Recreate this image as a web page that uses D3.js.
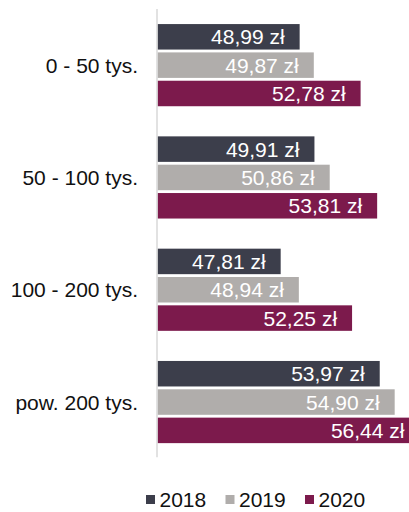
<!DOCTYPE html>
<html>
<head>
<meta charset="utf-8">
<script src="https://cdn.jsdelivr.net/npm/d3@7"></script>
<style>
  html, body { margin: 0; padding: 0; background: #fff; }
  svg { display: block; font-family: "Liberation Sans", Arial, sans-serif; }
</style>
</head>
<body>
<svg id="chart" width="409" height="512"></svg>
<script>
// kategorie (dochód gospodarstwa) i serie lat
const categories = ["0 - 50 tys.", "50 - 100 tys.", "100 - 200 tys.", "pow. 200 tys."];
const years = ["2018", "2019", "2020"];
const values2018 = [48.99, 49.91, 47.81, 53.97];
const values2019 = [49.87, 50.86, 48.94, 54.90];
const values2020 = [52.78, 53.81, 52.25, 56.44];
const colors = ["#3c3e4b", "#b0adab", "#7c1a4c"];

const series = [values2018, values2019, values2020];

const svg = d3.select("#chart");

/*Skale*/
const axisX = 157.5;
const x = d3.scaleLinear().domain([40.15, 60]).range([axisX, axisX + 19.85 * 16.08]);
const y0 = d3.scaleBand().domain(categories).range([9, 458.2]);
const y1 = d3.scaleBand().domain(years)
    .range([y0.bandwidth() / 2 - 42.5, y0.bandwidth() / 2 + 42.5])
    .paddingInner(0.1).paddingOuter(0.05);

const fmt = v => d3.format(".2f")(v).replace(".", ",") + " zł";

const groups = svg.selectAll("g.group")
    .data(categories)
    .enter().append("g")
        .attr("class", "group")
        .attr("transform", d => "translate(0," + y0(d) + ")");

groups.each(function(cat, ci) {
    const g = d3.select(this);
    years.forEach((yr, si) => {
        const v = series[si][ci];
        g.append("rect")
            .attr("x", axisX)
            .attr("y", y1(yr))
            .attr("width", x(v) - axisX)
            .attr("height", y1.bandwidth())
            .attr("fill", colors[si]);
        g.append("text")
            .attr("x", x(v) - 15)
            .attr("y", y1(yr) + y1.bandwidth() / 2)
            .attr("dy", "0.36em")
            .attr("text-anchor", "end")
            .attr("font-size", 21)
            .attr("fill", "#fff")
            .text(fmt(v));
    });
    g.append("text")
        .attr("x", 138)
        .attr("y", y0.bandwidth() / 2)
        .attr("dy", "0.36em")
        .attr("text-anchor", "end")
        .attr("font-size", 21)
        .attr("fill", "#111")
        .text(cat);
});

/*Oś pionowa*/
svg.append("line")
    .attr("x1", axisX - 0.5).attr("x2", axisX - 0.5)
    .attr("y1", y0.range()[0]).attr("y2", y0.range()[1] - 1)
    .attr("stroke", "#d9d9d9")
    .attr("stroke-width", 1.5);

/*Legenda*/
const legend = svg.append("g").attr("transform", "translate(146,499)");
const item = legend.selectAll("g.item")
    .data(years)
    .enter().append("g")
        .attr("class", "item")
        .attr("transform", (d, i) => "translate(" + (i * 79.5) + ",0)");
item.append("rect")
    .attr("x", 0).attr("y", -4)
    .attr("width", 9).attr("height", 9)
    .attr("fill", (d, i) => colors[i]);
item.append("text")
    .attr("x", 13.5)
    .attr("y", 0)
    .attr("dy", "0.36em")
    .attr("font-size", 21)
    .attr("fill", "#111")
    .text(d => d);
</script>
</body>
</html>
